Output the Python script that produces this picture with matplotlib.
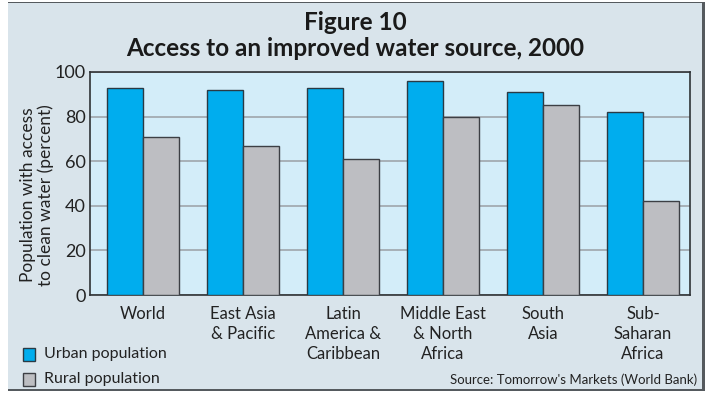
import matplotlib.pyplot as plt
from matplotlib.patches import Rectangle
import numpy as np

regions = ["World", "East Asia\n& Pacific", "Latin\nAmerica &\nCaribbean",
           "Middle East\n& North\nAfrica", "South\nAsia", "Sub-\nSaharan\nAfrica"]
urban = [93, 92, 93, 96, 91, 82]
rural = [71, 67, 61, 80, 85, 42]
yticks = [0, 20, 40, 60, 80, 100]

plt.rcParams['font.family'] = ['Lato', 'DejaVu Sans']

W, H = 710, 393
fig = plt.figure(figsize=(W / 100, H / 100), dpi=100)
fig.patch.set_facecolor('white')

# background panel with shadow
fig.add_artist(Rectangle((8 / W, 1 - 391 / H), 697 / W, 389 / H, transform=fig.transFigure,
                         facecolor='#555a5e', edgecolor='none', zorder=-10))
fig.add_artist(Rectangle((8 / W, 1 - 389 / H), 694 / W, 386 / H, transform=fig.transFigure,
                         facecolor='#d9e4eb', edgecolor='none', zorder=-9))

ax = fig.add_axes([90 / W, 1 - 295 / H, 600 / W, 223 / H])
ax.set_facecolor('#d3edf9')

x = np.arange(len(regions))
w = 0.36
ax.bar(x - w / 2, urban, w, color='#00adee', edgecolor='#2a3a44', linewidth=1, zorder=3)
ax.bar(x + w / 2, rural, w, color='#bdbec2', edgecolor='#3c3f44', linewidth=1, zorder=3)

ax.set_xlim(-0.53, 5.47)
ax.set_ylim(0, 100)
ax.set_yticks(yticks)
ax.set_yticklabels([str(t) for t in yticks], fontsize=13, color='#222222')
ax.tick_params(axis='y', length=0, pad=3)
ax.set_xticks(x)
ax.set_xticklabels(regions, fontsize=12, color='#222222', linespacing=1.3)
ax.tick_params(axis='x', length=0, pad=8)
ax.grid(axis='y', color='#a3abb1', linewidth=1.3, zorder=1)
for s in ax.spines.values():
    s.set_color('#2f3336')
    s.set_linewidth(1.2)

fig.text(37 / W, 1 - 195 / H, "Population with access\nto clean water (percent)", rotation=90,
         ha='center', va='center', fontsize=12.5, color='#222222', linespacing=1.05)

fig.text(355 / W, 1 - 23 / H, "Figure 10", ha='center', va='center',
         fontsize=17.5, fontweight='bold', color='#1a1a1a')
fig.text(355 / W, 1 - 49 / H, "Access to an improved water source, 2000", ha='center', va='center',
         fontsize=17.5, fontweight='bold', color='#1a1a1a')

# legend
fig.add_artist(Rectangle((23 / W, 1 - 361 / H), 12 / W, 13 / H, transform=fig.transFigure,
                         facecolor='#00adee', edgecolor='#2a3a44', linewidth=1))
fig.add_artist(Rectangle((23 / W, 1 - 386 / H), 12 / W, 13 / H, transform=fig.transFigure,
                         facecolor='#bdbec2', edgecolor='#3c3f44', linewidth=1))
fig.text(44 / W, 1 - 354 / H, "Urban population", ha='left', va='center', fontsize=11.5, color='#222222')
fig.text(44 / W, 1 - 379 / H, "Rural population", ha='left', va='center', fontsize=11.5, color='#222222')
fig.text(697 / W, 1 - 380 / H, "Source: Tomorrow's Markets (World Bank)", ha='right', va='center',
         fontsize=9.5, color='#222222')

fig.savefig('out.png', dpi=100)
